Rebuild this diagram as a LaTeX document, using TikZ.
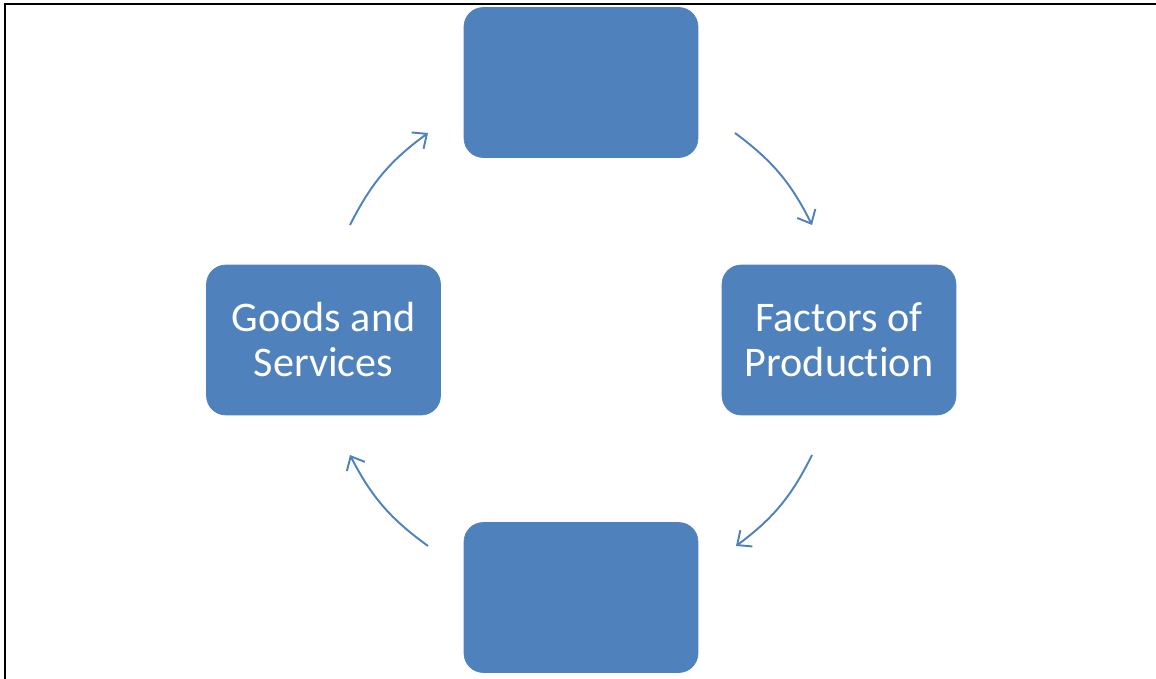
\documentclass[tikz,border=0pt]{standalone}
\usepackage{fontspec}
\setmainfont{Carlito}[Ligatures=NoCommon]
\usetikzlibrary{arrows.meta}

\definecolor{boxblue}{HTML}{4F81BD}

\tikzset{
  cyclebox/.style={draw=boxblue, fill=boxblue, rounded corners=11pt,
    minimum width=4.68cm, minimum height=3cm, align=center, text=white,
    font=\fontsize{24}{25.6}\selectfont},
  flow/.style={draw=boxblue, line width=1.1pt,
    -{Straight Barb[length=6.5pt,width=11.5pt]}}
}

\begin{document}
\begin{tikzpicture}[x=0.02cm, y=-0.02cm]

\useasboundingbox (0,0) rectangle (1156,679);

% Frame
\draw[line width=1.1pt] (5,679) -- (5,4) -- (1156,4);

% Boxes
\node[cyclebox] (top) at (581,82.5) {};
\node[cyclebox] (goods) at (323.5,340) {Goods and\\Services};
\node[cyclebox] (factors) at (839,340) {Factors of\\Production};
\node[cyclebox] (bottom) at (581,597.5) {};

% Arrow ends
\coordinate (a1) at (350,225);
\coordinate (a2) at (428,133);
\coordinate (b1) at (735,133);
\coordinate (b2) at (812,225);
\coordinate (c1) at (812,455);
\coordinate (c2) at (736,546);
\coordinate (d1) at (428,546);
\coordinate (d2) at (350,455);

% Arrows
\draw[flow] (a1) to[bend left=13.5] (a2);
\draw[flow] (b1) to[bend left=13.5] (b2);
\draw[flow] (c1) to[bend left=13.5] (c2);
\draw[flow] (d1) to[bend left=13.5] (d2);

\end{tikzpicture}
\end{document}
